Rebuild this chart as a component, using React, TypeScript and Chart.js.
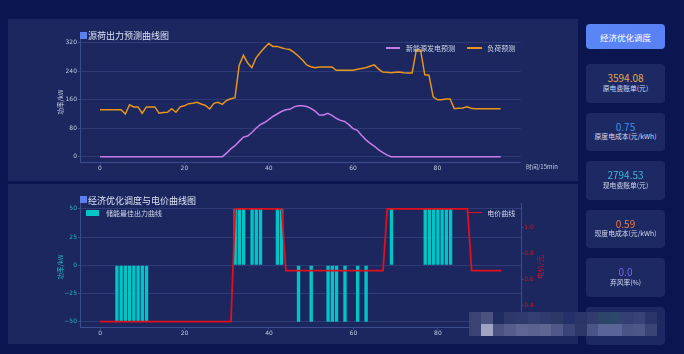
import React, { useEffect, useRef } from 'react';
import { Chart, registerables } from 'chart.js';

Chart.register(...registerables);

// ---------------- data ----------------
const timeIndex: number[] = Array.from({ length: 96 }, (_, i) => i);

const renewableForecast: number[] = [
  0, 0, 0, 0, 0, 0, 0, 0, 0, 0,
  0, 0, 0, 0, 0, 0, 0, 0, 0, 0,
  0, 0, 0, 0, 0, 0, 0, 0, 0, 0,
  10, 22, 31, 43, 55, 58, 68, 80, 90, 96,
  104, 113, 120, 127, 132, 133, 140, 143, 143, 141,
  136, 128, 117, 117, 122, 116, 108, 102, 99, 90,
  79, 74, 60, 48, 38, 30, 20, 12, 5, 0,
  0, 0, 0, 0, 0, 0, 0, 0, 0, 0,
  0, 0, 0, 0, 0, 0, 0, 0, 0, 0,
  0, 0, 0, 0, 0, 0,
];

const loadForecast: number[] = [
  132, 132, 132, 132, 132, 132, 120, 146, 140, 140,
  122, 140, 140, 140, 122, 124, 125, 135, 125, 140,
  143, 149, 150, 153, 148, 144, 134, 150, 153, 147,
  158, 163, 166, 257, 285, 263, 250, 278, 293, 306,
  318, 310, 310, 306, 303, 301, 293, 283, 272, 258,
  253, 250, 252, 252, 252, 252, 243, 243, 243, 243,
  243, 246, 248, 250, 254, 258, 247, 238, 237, 236,
  237, 238, 236, 235, 235, 300, 300, 230, 229, 168,
  160, 160, 162, 162, 135, 136, 137, 140, 136, 135,
  135, 135, 135, 135, 135, 135,
];

const storageOutput: number[] = [
  0, 0, 0, 0, -50, -50, -50, -50, -50, -50,
  -50, -50, 0, 0, 0, 0, 0, 0, 0, 0,
  0, 0, 0, 0, 0, 0, 0, 0, 0, 0,
  0, 0, 50, 50, 50, 0, 50, 50, 50, 0,
  0, 0, 50, 50, 0, 0, 0, -50, 0, 0,
  -50, 0, 0, 0, -50, -50, -50, 0, -50, 0,
  0, -50, 0, -50, 0, 0, 0, 0, 0, 50,
  0, 0, 0, 0, 0, 0, 0, 50, 50, 50,
  50, 50, 50, 50, 0, 0, 0, 0, 0, 0,
  0, 0, 0, 0, 0, 0,
];

const electricityPrice: number[] = [
  0.28, 0.28, 0.28, 0.28, 0.28, 0.28, 0.28, 0.28, 0.28, 0.28,
  0.28, 0.28, 0.28, 0.28, 0.28, 0.28, 0.28, 0.28, 0.28, 0.28,
  0.28, 0.28, 0.28, 0.28, 0.28, 0.28, 0.28, 0.28, 0.28, 0.28,
  0.28, 0.28, 1.14, 1.14, 1.14, 1.14, 1.14, 1.14, 1.14, 1.14,
  1.14, 1.14, 1.14, 1.14, 0.67, 0.67, 0.67, 0.67, 0.67, 0.67,
  0.67, 0.67, 0.67, 0.67, 0.67, 0.67, 0.67, 0.67, 0.67, 0.67,
  0.67, 0.67, 0.67, 0.67, 0.67, 0.67, 0.67, 0.67, 1.14, 1.14,
  1.14, 1.14, 1.14, 1.14, 1.14, 1.14, 1.14, 1.14, 1.14, 1.14,
  1.14, 1.14, 1.14, 1.14, 1.14, 1.14, 1.14, 1.14, 0.67, 0.67,
  0.67, 0.67, 0.67, 0.67, 0.67, 0.67,
];

const xTicks: number[] = [0, 20, 40, 60, 80];
const powerTicksTop: number[] = [0, 80, 160, 240, 320];
const powerTicksBottom: number[] = [-50, -25, 0, 25, 50];
const priceTicks: number[] = [0.4, 0.6, 0.8, 1.0];

const cardLabels: string[] = ['原电费账单(元)', '原度电成本(元/kWh)', '现电费账单(元)', '现度电成本(元/kWh)', '弃风率(%)'];
const cardValues: string[] = ['3594.08', '0.75', '2794.53', '0.59', '0.0'];
const cardColors: string[] = ['#e6a846', '#3f8fe6', '#3bb9d6', '#ee7d3c', '#7868ee'];

// ---------------- styles ----------------
const OUTER = '#0b1550';
const PANEL = '#1b275e';
const CARD = '#1c2963';
const GRID = 'rgba(86,104,170,0.32)';
const SPINE = '#3b4d8e';
const TICK_TXT = '#c3cbe4';
const CJK = '"Noto Sans CJK SC", "Noto Sans", sans-serif';
const TICK_FONT = { size: 6, family: 'DejaVu Sans' };

const mosaicRow1 = ['#3a4372', '#4a5282', '#1f2b61', '#2d376a', '#2f396b', '#343e70', '#303a6c', '#2e3868', '#25306a', '#2a3466', '#313b6e', '#2b4669', '#2c476b', '#363f74', '#3a4378', '#2a3468'];
const mosaicRow2 = ['#3a4372', '#a0a4c2', '#4a5282', '#555d8c', '#5e6694', '#5a6290', '#5e6694', '#50588a', '#3a4476', '#2e3868', '#4a5486', '#5a6496', '#5a6496', '#4a5486', '#4e5888', '#3a4476'];

function setTicks(values: number[]) {
  return (s: any) => {
    s.ticks = values.map((v) => ({ value: v }));
  };
}

export default function App() {
  const topRef = useRef<HTMLCanvasElement | null>(null);
  const botRef = useRef<HTMLCanvasElement | null>(null);

  useEffect(() => {
    const top = new Chart(topRef.current as HTMLCanvasElement, {
      type: 'line',
      data: {
        datasets: [
          {
            label: '新能源发电预测',
            data: timeIndex.map((x, i) => ({ x, y: renewableForecast[i] })),
            borderColor: '#c57ce8',
            borderWidth: 1.5,
            pointRadius: 0,
            tension: 0,
          },
          {
            label: '负荷预测',
            data: timeIndex.map((x, i) => ({ x, y: loadForecast[i] })),
            borderColor: '#e8951c',
            borderWidth: 1.5,
            pointRadius: 0,
            tension: 0,
          },
        ],
      },
      options: {
        responsive: false,
        animation: false,
        layout: { padding: { top: 20, right: 59.3, left: 0, bottom: 0 } },
        plugins: { legend: { display: false }, tooltip: { enabled: false } },
        scales: {
          x: {
            type: 'linear',
            min: -4.75,
            max: 99.75,
            afterBuildTicks: setTicks(xTicks),
            afterFit: (s: any) => { s.height = 18.7; },
            grid: { display: true, drawOnChartArea: false, drawTicks: true, tickLength: 2, tickColor: SPINE },
            border: { display: true, color: SPINE, width: 1 },
            ticks: { color: TICK_TXT, font: TICK_FONT, padding: 1, maxRotation: 0 },
          },
          y: {
            type: 'linear',
            min: -15.75,
            max: 330.75,
            afterBuildTicks: setTicks(powerTicksTop),
            afterFit: (s: any) => { s.width = 80; },
            grid: { color: GRID, drawTicks: true, tickLength: 2, tickColor: SPINE },
            border: { display: true, color: SPINE, width: 1 },
            ticks: { color: TICK_TXT, font: TICK_FONT, padding: 1 },
          },
        },
      },
    } as any);

    const bot = new Chart(botRef.current as HTMLCanvasElement, {
      type: 'bar',
      data: {
        datasets: [
          {
            type: 'line',
            label: '电价曲线',
            data: timeIndex.map((x, i) => ({ x, y: electricityPrice[i] })),
            borderColor: '#e0101c',
            borderWidth: 1.8,
            pointRadius: 0,
            tension: 0,
            yAxisID: 'y1',
            order: 0,
          },
          {
            type: 'bar',
            label: '储能最佳出力曲线',
            data: timeIndex.map((x, i) => ({ x, y: storageOutput[i] })),
            backgroundColor: '#00c4c6',
            borderWidth: 0,
            categoryPercentage: 0.8,
            barPercentage: 1,
            yAxisID: 'y',
            order: 1,
          },
        ],
      },
      options: {
        responsive: false,
        animation: false,
        layout: { padding: { top: 19.3, right: 0, left: 0, bottom: 0 } },
        plugins: { legend: { display: false }, tooltip: { enabled: false } },
        scales: {
          x: {
            type: 'linear',
            offset: false,
            min: -4.75,
            max: 99.75,
            afterBuildTicks: setTicks(xTicks),
            afterFit: (s: any) => { s.height = 16.7; },
            grid: { display: true, offset: false, drawOnChartArea: false, drawTicks: true, tickLength: 2, tickColor: SPINE },
            border: { display: true, color: SPINE, width: 1 },
            ticks: { color: TICK_TXT, font: TICK_FONT, padding: 1, maxRotation: 0 },
          },
          y: {
            type: 'linear',
            position: 'left',
            min: -55,
            max: 55,
            afterBuildTicks: setTicks(powerTicksBottom),
            afterFit: (s: any) => { s.width = 80; },
            grid: { color: GRID, drawTicks: true, tickLength: 2, tickColor: SPINE },
            border: { display: true, color: SPINE, width: 1 },
            ticks: {
              color: '#2cb6c0',
              font: TICK_FONT,
              padding: 1,
              callback: (v: any) => String(v).replace('-', '\u2212'),
            },
          },
          y1: {
            type: 'linear',
            position: 'right',
            min: 0.2369,
            max: 1.1831,
            afterBuildTicks: setTicks(priceTicks),
            afterFit: (s: any) => { s.width = 58.7; },
            grid: { drawOnChartArea: false, drawTicks: true, tickLength: 2, tickColor: SPINE },
            border: { display: true, color: SPINE, width: 1 },
            ticks: {
              color: '#d4151f',
              font: TICK_FONT,
              padding: 1,
              callback: (v: any) => Number(v).toFixed(1),
            },
          },
        },
      },
    } as any);

    return () => {
      top.destroy();
      bot.destroy();
    };
  }, []);

  const abs = (extra: any) => ({ position: 'absolute' as const, ...extra });
  const txt = (left: number, cy: number, size: number, color: string, extra: any = {}) =>
    abs({ left, top: cy, transform: 'translateY(-50%)', fontSize: size, color, whiteSpace: 'nowrap', lineHeight: 1, fontFamily: CJK, ...extra });
  const rot = (cx: number, cy: number, size: number, color: string) =>
    abs({ left: cx, top: cy, transform: 'translate(-50%,-50%) rotate(-90deg)', fontSize: size, color, whiteSpace: 'nowrap', lineHeight: 1, fontFamily: CJK });

  const cardTops = [64, 112.5, 161, 209.5, 258, 306.5];

  return (
    <div style={{ position: 'fixed', left: 0, top: 0, width: 684, height: 354, background: OUTER, overflow: 'hidden', fontFamily: CJK }}>
      {/* panels */}
      <div style={abs({ left: 8, top: 19, width: 570, height: 162, background: PANEL })} />
      <div style={abs({ left: 8, top: 184, width: 570, height: 160, background: PANEL })} />

      <canvas ref={topRef} width={580} height={162} style={abs({ left: 0, top: 19, width: 580, height: 162 })} />
      <canvas ref={botRef} width={580} height={160} style={abs({ left: 0, top: 184, width: 580, height: 160 })} />

      {/* titles */}
      <div style={abs({ left: 80, top: 31.5, width: 7, height: 7, background: '#5d80f0' })} />
      <div style={txt(88, 35, 9, '#dce2f5')}>源荷出力预测曲线图</div>
      <div style={abs({ left: 80, top: 196, width: 7, height: 7, background: '#5d80f0' })} />
      <div style={txt(88, 199.5, 9, '#dce2f5')}>经济优化调度与电价曲线图</div>

      {/* top legend */}
      <div style={abs({ left: 386, top: 47, width: 14, height: 1.5, background: '#c57ce8' })} />
      <div style={txt(406, 47.7, 7, '#d0d6ea')}>新能源发电预测</div>
      <div style={abs({ left: 467, top: 47, width: 14.5, height: 1.5, background: '#e8951c' })} />
      <div style={txt(487.3, 47.7, 7, '#d0d6ea')}>负荷预测</div>

      {/* bottom legends */}
      <div style={abs({ left: 85.7, top: 210, width: 13, height: 5.7, background: '#00c4c6' })} />
      <div style={txt(106, 212.8, 7, '#d0d6ea')}>储能最佳出力曲线</div>
      <div style={abs({ left: 466.7, top: 211.5, width: 15, height: 1.8, background: '#e0101c' })} />
      <div style={txt(487.3, 212.5, 7, '#d0d6ea')}>电价曲线</div>

      {/* axis titles */}
      <div style={rot(60, 101.7, 6.5, '#c3cbe4')}>功率/kW</div>
      <div style={rot(60, 266.7, 6.5, '#2cb6c0')}>功率/kW</div>
      <div style={rot(540, 266.7, 7, '#d4151f')}>电价/元</div>
      <div style={txt(526, 166.7, 6, '#c3cbe4')}>时间/15min</div>

      {/* sidebar */}
      <div
        style={abs({
          left: 586, top: 24.3, width: 79, height: 25, borderRadius: 4,
          background: 'linear-gradient(90deg, #5a86f6, #5a80f3)',
          color: '#ffffff', fontSize: 8.5, display: 'flex', alignItems: 'center', justifyContent: 'center',
        })}
      >
        经济优化调度
      </div>
      {cardTops.map((t, i) => (
        <div key={i} style={abs({ left: 586, top: t, width: 79, height: 38.5, borderRadius: 4, background: CARD })}>
          {i < cardValues.length && (
            <>
              <div style={abs({ left: 0, width: 79, top: 14.3, transform: 'translateY(-50%)', textAlign: 'center', fontSize: 10, lineHeight: 1, color: cardColors[i], fontFamily: CJK })}>
                {cardValues[i]}
              </div>
              <div style={abs({ left: 0, width: 79, top: 23.7, transform: 'translateY(-50%)', textAlign: 'center', fontSize: 6.8, lineHeight: 1, color: '#d2d8ee', fontFamily: CJK, whiteSpace: 'nowrap' })}>
                {cardLabels[i]}
              </div>
            </>
          )}
        </div>
      ))}

      {/* mosaic */}
      {mosaicRow1.map((c, i) => (
        <div key={'a' + i} style={abs({ left: 469 + i * 11.75, top: 311.7, width: 11.85, height: 12.1, background: c })} />
      ))}
      {mosaicRow2.map((c, i) => (
        <div key={'b' + i} style={abs({ left: 469 + i * 11.75, top: 323.7, width: 11.85, height: 12.3, background: c })} />
      ))}
    </div>
  );
}
